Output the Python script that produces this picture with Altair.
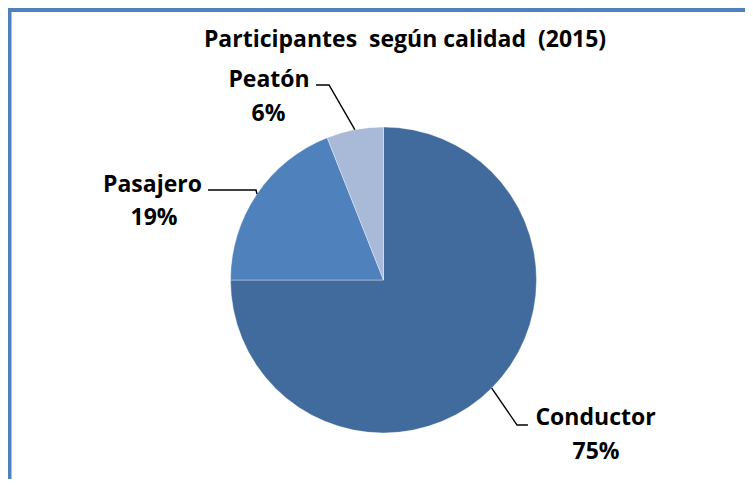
import math
import altair as alt
import pandas as pd

# ---- data ----
categories = ["Conductor", "Pasajero", "Peatón"]
values = [75, 19, 6]
title_text = "Participantes\u00a0 según calidad\u00a0 (2015)"

# ---- style / layout (kept apart from data) ----
colors = ["#416B9D", "#4F81BD", "#A9B9D8"]
frame_color = "#4F81BD"
FONT = "Open Sans"
FS = 23
W, H = 737, 471
CX, CY, R = 375.5, 272.0, 153.0  # pie centre & radius in chart pixels

# label / leader positions in radius units (x right, y down) relative to pie centre
name_pos = {"Conductor": (1.386, 0.905), "Pasajero": (-1.510, -0.621), "Peatón": (-0.748, -1.307)}
pct_pos = {"Conductor": (1.389, 1.121), "Pasajero": (-1.500, -0.402), "Peatón": (-0.752, -1.088)}
elbow_pos = {"Conductor": (0.873, 0.948), "Pasajero": (-0.833, -0.588), "Peatón": (-0.356, -1.275)}
end_pos = {"Conductor": (0.944, 0.948), "Pasajero": (-1.147, -0.588), "Peatón": (-0.441, -1.275)}

total = sum(values)
pie_df = pd.DataFrame({"cat": categories, "val": values, "idx": range(len(values))})

lab_rows, lead_rows = [], []
cum = 0.0
for c, v in zip(categories, values):
    mid = (cum + v / 2) / total * 2 * math.pi
    cum += v
    ex, ey = math.sin(mid), -math.cos(mid)
    lab_rows.append({"cat": c, "kind": "name", "text": c, "u": name_pos[c][0], "v": -name_pos[c][1]})
    lab_rows.append({"cat": c, "kind": "pct", "text": f"{round(v / total * 100)}%",
                     "u": pct_pos[c][0], "v": -pct_pos[c][1]})
    for k, (px, py) in enumerate([(ex, ey), elbow_pos[c], end_pos[c]]):
        lead_rows.append({"cat": c, "pt": k, "u": px, "v": -py})
lab_df = pd.DataFrame(lab_rows)
lead_df = pd.DataFrame(lead_rows)

xs = alt.Scale(domain=[-CX / R, (W - CX) / R], range=[0, W], nice=False, zero=False)
ys = alt.Scale(domain=[-(H - CY) / R, CY / R], range=[H, 0], nice=False, zero=False)

pie = alt.Chart(pie_df).mark_arc(outerRadius=R, stroke="#ffffff", strokeWidth=0.6, strokeOpacity=0.6).encode(
    theta=alt.Theta("val:Q", stack=True),
    color=alt.Color("cat:N", scale=alt.Scale(domain=categories, range=colors), legend=None),
    order=alt.Order("idx:Q"),
    x=alt.value(CX),
    y=alt.value(CY),
)

leaders = alt.Chart(lead_df).mark_line(color="black", strokeWidth=1.4).encode(
    x=alt.X("u:Q", scale=xs, axis=None),
    y=alt.Y("v:Q", scale=ys, axis=None),
    detail="cat:N",
    order=alt.Order("pt:Q"),
)

labels = alt.Chart(lab_df).mark_text(
    font=FONT, fontSize=FS, fontWeight="bold", color="black", align="center", baseline="middle"
).encode(
    x=alt.X("u:Q", scale=xs, axis=None),
    y=alt.Y("v:Q", scale=ys, axis=None),
    text="text:N",
)

title = alt.Chart(pd.DataFrame({"t": [title_text]})).mark_text(
    font=FONT, fontSize=FS, fontWeight="bold", color="black", align="center", baseline="middle"
).encode(x=alt.value(397), y=alt.value(31.5), text="t:N")

frame_left = alt.Chart(pd.DataFrame({"a": [0]})).mark_rule(color=frame_color, strokeWidth=4).encode(
    x=alt.value(1.5), y=alt.value(2), y2=alt.value(H)
)
frame_top = alt.Chart(pd.DataFrame({"a": [0]})).mark_rule(color=frame_color, strokeWidth=4).encode(
    x=alt.value(0), x2=alt.value(W), y=alt.value(2)
)

chart = alt.layer(pie, leaders, labels, title, frame_left, frame_top).properties(
    width=W, height=H, padding=0, autosize=alt.AutoSizeParams(type="none")
).configure_view(stroke=None).configure(background="white")

chart.save("out.html", embed_options={"renderer": "svg", "actions": False})
